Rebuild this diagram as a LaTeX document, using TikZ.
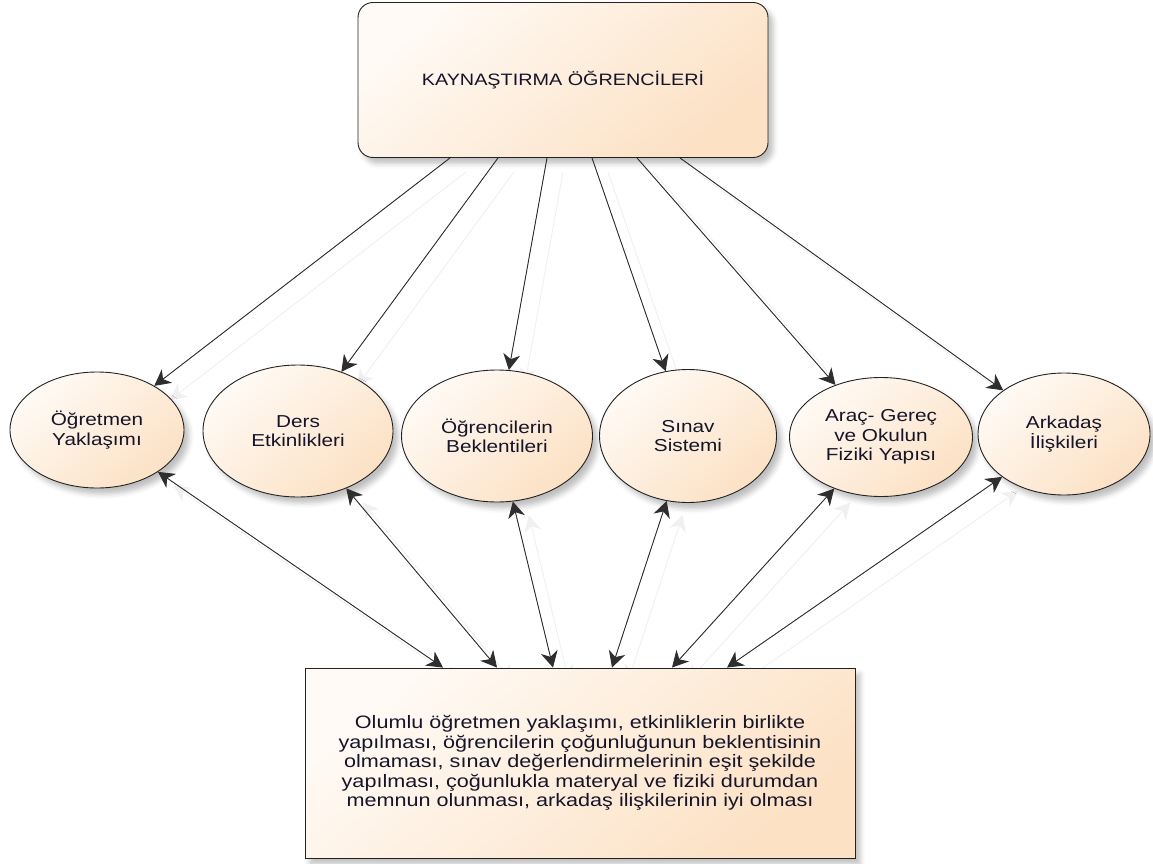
\documentclass[tikz,border=0pt]{standalone}
\usepackage{fontspec}
\setmainfont{Liberation Sans}[FakeStretch=1.2]
\usetikzlibrary{arrows.meta,shapes.geometric,shadows.blur}
\definecolor{peachA}{HTML}{FFFAF5}
\definecolor{peachB}{HTML}{FCE1C4}
\definecolor{bordc}{HTML}{222222}
\definecolor{txtc}{HTML}{15152A}
\definecolor{linec}{HTML}{2E2E2E}
\pgfdeclarelayer{bg}
\pgfsetlayers{bg,main}
\tikzset{
  peach/.style={draw=bordc, line width=0.9pt, top color=peachA, bottom color=peachB, shading angle=40,
    blur shadow={shadow xshift=5pt, shadow yshift=-6pt, shadow blur radius=5pt, shadow opacity=25}},
  topbox/.style={peach, rounded corners=15pt, minimum width=410pt, minimum height=155pt, inner sep=0pt,
    font=\fontsize{16.5}{19}\selectfont, text=txtc},
  botbox/.style={peach, minimum width=550pt, minimum height=190pt, inner sep=0pt, align=center,
    font=\fontsize{18}{19.6}\selectfont, text=txtc},
  oval/.style={peach, ellipse, inner sep=0pt, align=center, font=\fontsize{17.3}{19.5}\selectfont, text=txtc},
  tip/.style={-{Stealth[length=16pt,width=17pt,inset=5pt]}},
  dtip/.style={{Stealth[length=16pt,width=17pt,inset=5pt]}-{Stealth[length=16pt,width=17pt,inset=5pt]}},
  conn/.style={draw=linec, fill=black, line width=0.9pt},
  ghost/.style={draw=black!6, fill=black!6, line width=0.9pt}
}
\begin{document}
\begin{tikzpicture}[x=1pt,y=-1pt]
\useasboundingbox (0,0) rectangle (1153,864);
\node[topbox] (top) at (563,80) {KAYNAŞTIRMA ÖĞRENCİLERİ};
\node[botbox] (bot) at (580,763) {Olumlu öğretmen yaklaşımı, etkinliklerin birlikte\\
yapılması, öğrencilerin çoğunluğunun beklentisinin\\
olmaması, sınav değerlendirmelerinin eşit şekilde\\
yapılması, çoğunlukla materyal ve fiziki durumdan\\
memnun olunması, arkadaş ilişkilerinin iyi olması};
\node[oval, minimum width=174pt, minimum height=116pt] (e1) at (97,430) {Öğretmen\\Yaklaşımı};
\node[oval, minimum width=190pt, minimum height=132pt] (e2) at (298,431) {Ders\\Etkinlikleri};
\node[oval, minimum width=191pt, minimum height=132pt] (e3) at (497,436) {Öğrencilerin\\Beklentileri};
\node[oval, minimum width=177pt, minimum height=133pt] (e4) at (688,436) {Sınav\\Sistemi};
\node[oval, minimum width=183pt, minimum height=119pt] (e5) at (881,437) {Araç- Gereç\\ve Okulun\\Fiziki Yapısı};
\node[oval, minimum width=172pt, minimum height=122pt] (e6) at (1064,434) {Arkadaş\\İlişkileri};

\begin{pgfonlayer}{bg}
\begin{scope}[transform canvas={xshift=16pt,yshift=-14pt}]
\draw[ghost,tip] ([xshift=-113pt]top.south) -- (e1);
\draw[ghost,tip] ([xshift=-65pt]top.south) -- (e2);
\draw[ghost,tip] ([xshift=-16pt]top.south) -- (e3);
\draw[ghost,tip] ([xshift=29pt]top.south) -- (e4);
\draw[ghost,tip] ([xshift=74pt]top.south) -- (e5);
\draw[ghost,tip] ([xshift=117pt]top.south) -- (e6);
\draw[ghost,dtip] (e1) -- ([xshift=-137pt]bot.north);
\draw[ghost,dtip] (e2) -- ([xshift=-83pt]bot.north);
\draw[ghost,dtip] (e3) -- ([xshift=-27pt]bot.north);
\draw[ghost,dtip] (e4) -- ([xshift=32pt]bot.north);
\draw[ghost,dtip] (e5) -- ([xshift=92pt]bot.north);
\draw[ghost,dtip] (e6) -- ([xshift=147pt]bot.north);
\end{scope}
\end{pgfonlayer}

\draw[conn,tip] ([xshift=-113pt]top.south) -- (e1);
\draw[conn,tip] ([xshift=-65pt]top.south) -- (e2);
\draw[conn,tip] ([xshift=-16pt]top.south) -- (e3);
\draw[conn,tip] ([xshift=29pt]top.south) -- (e4);
\draw[conn,tip] ([xshift=74pt]top.south) -- (e5);
\draw[conn,tip] ([xshift=117pt]top.south) -- (e6);
\draw[conn,dtip] (e1) -- ([xshift=-137pt]bot.north);
\draw[conn,dtip] (e2) -- ([xshift=-83pt]bot.north);
\draw[conn,dtip] (e3) -- ([xshift=-27pt]bot.north);
\draw[conn,dtip] (e4) -- ([xshift=32pt]bot.north);
\draw[conn,dtip] (e5) -- ([xshift=92pt]bot.north);
\draw[conn,dtip] (e6) -- ([xshift=147pt]bot.north);
\end{tikzpicture}
\end{document}
